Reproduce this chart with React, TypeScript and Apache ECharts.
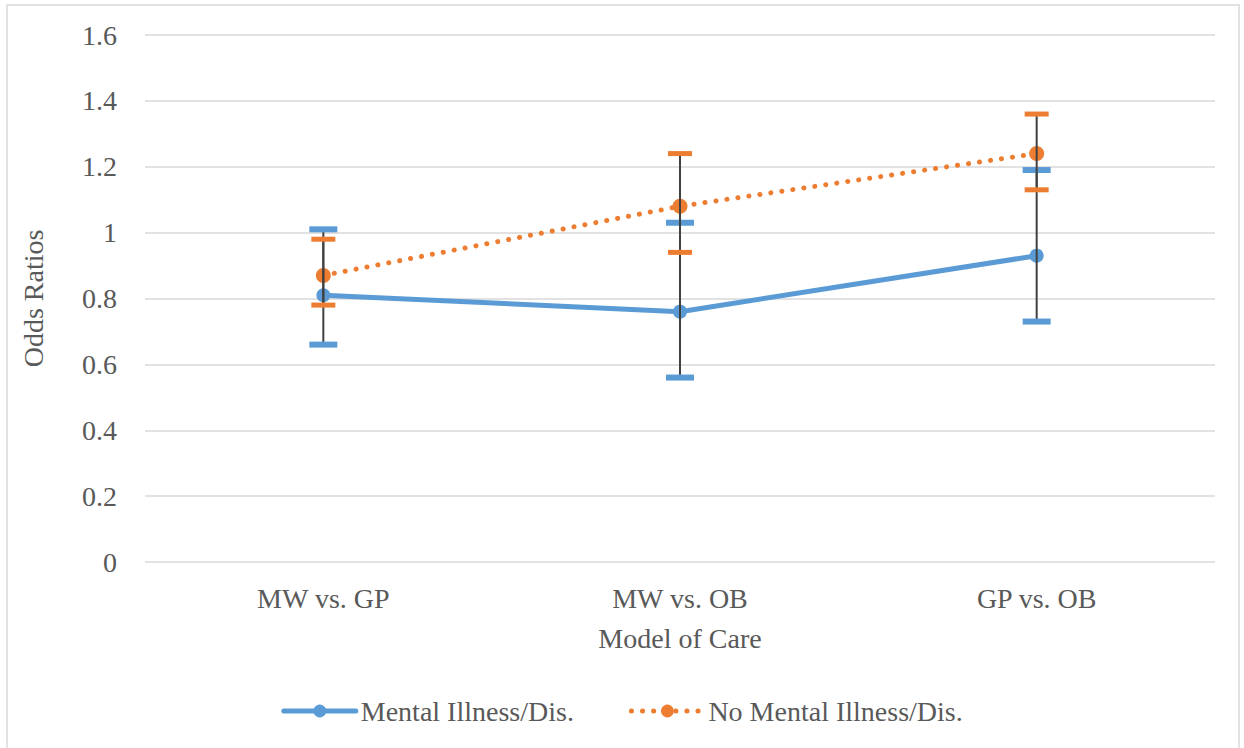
import React, { useEffect, useRef } from "react";
import * as echarts from "echarts";

const categories = ["MW vs. GP", "MW vs. OB", "GP vs. OB"];
const mentalValues = [0.81, 0.76, 0.93];
const mentalLow = [0.66, 0.56, 0.73];
const mentalHigh = [1.01, 1.03, 1.19];
const noMentalValues = [0.87, 1.08, 1.24];
const noMentalLow = [0.78, 0.94, 1.13];
const noMentalHigh = [0.98, 1.24, 1.36];
const yTicks = { min: 0, max: 1.6, interval: 0.2 };

const BLUE = "#5B9BD5";
const ORANGE = "#ED7D31";
const TEXT = "#595959";
const FONT = "Liberation Serif, Times New Roman, serif";
const FS = 28;

function errorSeries(name: string, low: number[], high: number[], color: string, capW: number, capH: number) {
  return {
    type: "custom",
    name: name + " err",
    z: 10,
    silent: true,
    data: low.map((l, i) => [i, l, high[i]]),
    renderItem: (params: any, api: any) => {
      const x = api.value(0);
      const p1 = api.coord([x, api.value(1)]);
      const p2 = api.coord([x, api.value(2)]);
      return {
        type: "group",
        children: [
          { type: "line", shape: { x1: p1[0], y1: p1[1], x2: p2[0], y2: p2[1] }, style: { stroke: "#404040", lineWidth: 2 } },
          { type: "line", shape: { x1: p1[0] - capW / 2, y1: p1[1], x2: p1[0] + capW / 2, y2: p1[1] }, style: { stroke: color, lineWidth: capH } },
          { type: "line", shape: { x1: p2[0] - capW / 2, y1: p2[1], x2: p2[0] + capW / 2, y2: p2[1] }, style: { stroke: color, lineWidth: capH } },
        ],
      };
    },
  };
}

export default function App() {
  const ref = useRef<HTMLDivElement>(null);
  useEffect(() => {
    if (!ref.current) return;
    const chart = echarts.init(ref.current, undefined, { renderer: "svg" });
    chart.setOption({
      animation: false,
      backgroundColor: "#ffffff",
      textStyle: { fontFamily: FONT, color: TEXT },
      graphic: [
        { type: "rect", shape: { x: 7, y: 5, width: 1232, height: 750 }, style: { fill: "none", stroke: "#D9D9D9", lineWidth: 1.5 }, silent: true },
      ],
      grid: { left: 145, right: 29, top: 35, bottom: 186 },
      xAxis: {
        type: "category",
        data: categories,
        axisLine: { show: false },
        axisTick: { show: false },
        axisLabel: { fontFamily: FONT, fontSize: FS, color: TEXT, margin: 22 },
        name: "Model of Care",
        nameLocation: "middle",
        nameGap: 62,
        nameTextStyle: { fontFamily: FONT, fontSize: FS, color: TEXT },
      },
      yAxis: {
        type: "value",
        min: yTicks.min,
        max: yTicks.max,
        interval: yTicks.interval,
        axisLine: { show: false },
        axisTick: { show: false },
        splitLine: { lineStyle: { color: "#D9D9D9", width: 1.5 } },
        axisLabel: { fontFamily: FONT, fontSize: FS, color: TEXT, margin: 28 },
        name: "Odds Ratios",
        nameLocation: "middle",
        nameGap: 98,
        nameRotate: 90,
        nameTextStyle: { fontFamily: FONT, fontSize: FS, color: TEXT },
      },
      legend: {
        top: 692,
        left: "center",
        itemGap: 55,
        itemWidth: 72,
        itemHeight: 16,
        lineStyle: { width: 5 },
        data: ["Mental Illness/Dis.", "No Mental Illness/Dis."],
        textStyle: { fontFamily: FONT, fontSize: FS, color: TEXT },
      },
      series: [
        { type: "line", name: "Mental Illness/Dis.", data: mentalValues, symbol: "circle", symbolSize: 14, itemStyle: { color: BLUE }, lineStyle: { color: BLUE, width: 5, cap: "round" }, z: 3 },
        { type: "line", name: "No Mental Illness/Dis.", data: noMentalValues, symbol: "circle", symbolSize: 15, itemStyle: { color: ORANGE }, lineStyle: { color: ORANGE, width: 5, type: [0.1, 11], cap: "round" }, z: 4 },
        errorSeries("Mental Illness/Dis.", mentalLow, mentalHigh, BLUE, 28, 6),
        errorSeries("No Mental Illness/Dis.", noMentalLow, noMentalHigh, ORANGE, 24, 5),
      ],
    });
    return () => chart.dispose();
  }, []);
  return <div ref={ref} style={{ position: "fixed", left: 0, top: 0, width: 1244, height: 748 }} />;
}
